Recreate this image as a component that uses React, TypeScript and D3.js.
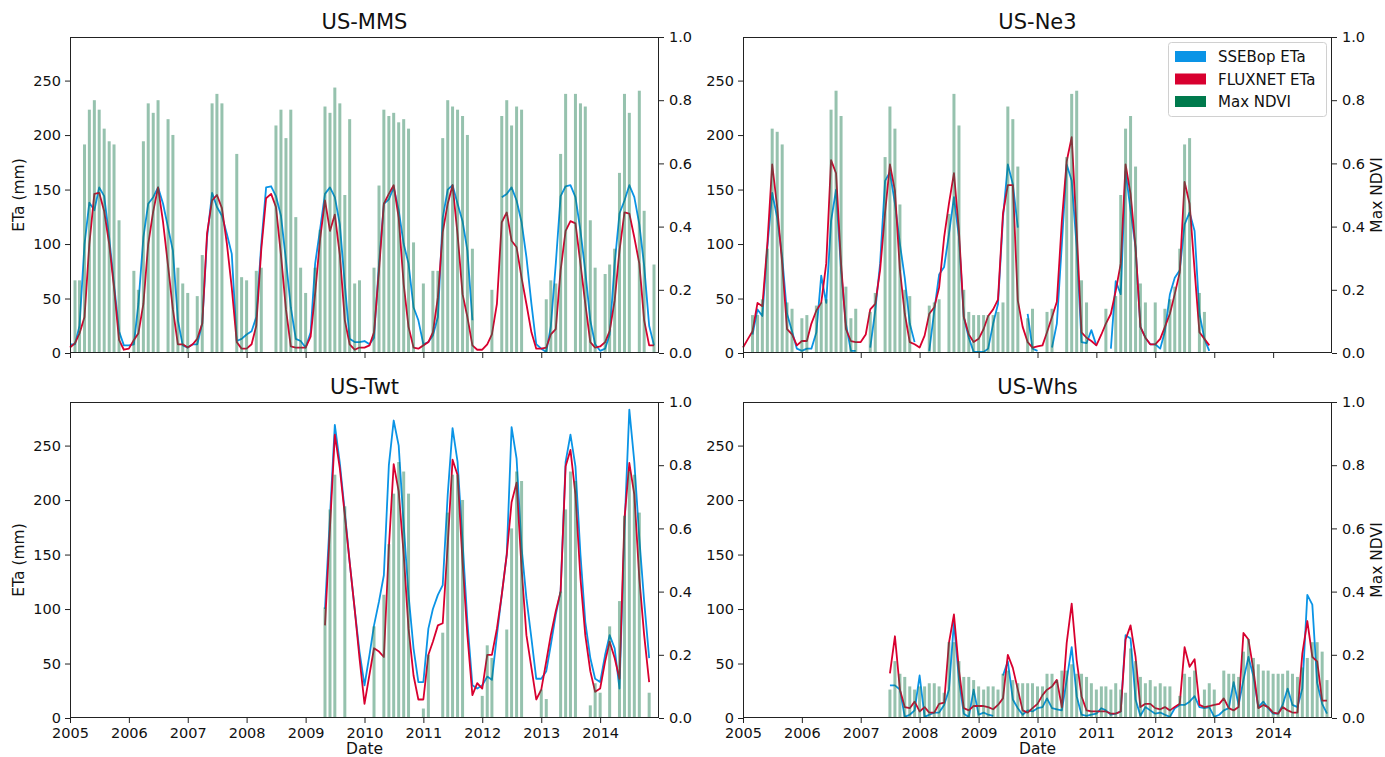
import React, { useEffect, useRef } from 'react';
import * as d3 from 'd3';

const W = 1385;
const H = 757;
const N = null;

// monthly values, index 0 = Jan 2005 (or the given start month)
const mmsStart = 0;
const mmsSsebop = [
  8, 8, 25, 100, 138, 131, 152, 144, 106, 63, 20, 7,
  7, 8, 45, 106, 137, 143, 152, 137, 115, 94, 30, 7,
  5, 8, 8, 27, 106, 147, 134, 126, 109, 91, 11, 13,
  17, 20, 33, 100, 152, 153, 144, 126, 85, 42, 13, 11,
  5, 19, 82, 114, 146, 152, 143, 118, 63, 13, 10, 10,
  11, 8, 14, 82, 137, 141, 152, 131, 100, 82, 42, 30,
  8, 10, 16, 33, 124, 150, 154, 137, 121, 94, 30, N,
  N, N, N, N, 143, 146, 152, 140, 120, 88, 45, 8,
  4, 1, 24, 82, 144, 153, 154, 143, 112, 75, 30, 8,
  2, 4, 17, 82, 128, 140, 154, 143, 118, 80, 25, 7,
];
const mmsFluxnet = [
  5, 9, 18, 33, 100, 146, 147, 130, 100, 60, 12, 3,
  4, 12, 18, 45, 100, 130, 152, 120, 80, 40, 8, 8,
  5, 8, 13, 27, 110, 140, 145, 133, 100, 60, 10, 4,
  4, 8, 25, 95, 142, 146, 134, 90, 40, 6, 5, 5,
  5, 15, 55, 105, 140, 112, 127, 90, 30, 8, 3, 5,
  5, 7, 19, 76, 137, 146, 154, 124, 63, 24, 5, 4,
  7, 10, 19, 51, 111, 137, 154, 109, 54, 33, 7, 3,
  3, 8, 17, 45, 120, 129, 103, 97, 69, 45, 19, 4,
  4, 5, 17, 22, 76, 112, 121, 119, 82, 45, 10, 5,
  6, 10, 20, 48, 94, 129, 128, 106, 82, 30, 7, 7,
];
const mmsNdvi = [
  N, 0.23, 0.23, 0.66, 0.77, 0.8, 0.77, 0.71, 0.67, 0.66, 0.42, N,
  N, 0.26, 0.2, 0.67, 0.79, 0.76, 0.8, N, 0.74, 0.69, 0.27, 0.22,
  0.19, N, 0.18, 0.31, N, 0.79, 0.82, 0.79, N, N, 0.63, 0.24,
  0.23, N, 0.26, 0.27, N, N, 0.72, 0.77, 0.68, 0.77, 0.43, 0.27,
  0.19, N, 0.27, 0.39, 0.78, 0.76, 0.84, 0.79, 0.5, 0.74, 0.22, 0.23,
  N, N, 0.27, 0.53, 0.77, 0.75, 0.76, 0.73, 0.74, 0.71, 0.35, N,
  0.22, N, 0.26, 0.26, 0.68, 0.8, 0.78, 0.77, 0.75, 0.69, 0.33, N,
  N, N, 0.2, N, 0.75, 0.8, 0.72, 0.78, 0.77, N, N, N,
  N, 0.17, 0.23, 0.22, 0.63, 0.82, N, 0.82, 0.79, 0.78, 0.42, 0.27,
  N, 0.25, 0.28, 0.33, 0.57, 0.82, 0.76, N, 0.83, 0.45, N, 0.28,
];

const ne3Start = 0;
const ne3Ssebop = [
  N, N, 17, 40, 34, 97, 147, 124, 88, 36, 20, 4,
  2, 4, 4, 19, 71, 46, 121, 150, 76, 27, 2, 2,
  N, N, 5, 39, 82, 158, 166, 137, 100, 69, 27, 10,
  N, N, 2, 39, 72, 79, 109, 143, 106, 33, 14, 1,
  1, 1, 4, 27, 45, 124, 173, 155, 115, N, 36, 4,
  2, N, N, 5, 27, 100, 173, 158, 97, 10, 9, 21,
  7, N, N, 4, 66, 54, 167, 131, 97, 24, 14, 8,
  8, 4, 20, 54, 69, 76, 118, 129, 112, 36, 13, 2,
];
const ne3Fluxnet = [
  5, 13, 20, 46, 43, 100, 173, 134, 82, 22, 17, 7,
  11, 11, 27, 39, 46, 82, 177, 165, 82, 22, 11, 10,
  10, 17, 40, 45, 76, 129, 173, 149, 76, 36, 10, 8,
  5, 16, 36, 42, 60, 106, 137, 165, 112, 33, 17, 10,
  13, 22, 34, 40, 49, 128, 154, 154, 48, 24, 10, 5,
  6, 7, 19, 33, 47, 121, 176, 198, 112, 19, 14, 11,
  7, 17, 27, 36, 57, 82, 173, 146, 97, 24, 14, 8,
  8, 13, 24, 36, 54, 74, 157, 137, 76, 19, 13, 7,
];
const ne3Ndvi = [
  N, N, 0.12, 0.12, 0.17, 0.33, 0.71, 0.7, 0.66, 0.16, 0.14, N,
  0.11, 0.12, N, 0.15, 0.16, 0.17, 0.77, 0.83, 0.75, 0.21, 0.11, 0.14,
  N, N, 0.13, 0.19, N, 0.62, 0.78, 0.71, 0.47, 0.2, 0.18, N,
  N, N, 0.15, 0.16, 0.17, N, 0.44, 0.82, 0.72, 0.2, 0.13, 0.12,
  0.12, 0.12, 0.12, 0.12, 0.13, 0.16, 0.78, 0.74, 0.59, N, 0.11, 0.14,
  N, N, 0.13, 0.14, N, N, 0.62, 0.82, 0.83, 0.23, 0.16, N,
  N, N, 0.14, N, 0.18, 0.5, 0.71, 0.75, 0.59, 0.22, 0.16, N,
  0.16, N, 0.14, 0.17, 0.21, 0.33, 0.66, 0.68, N, 0.19, 0.13, N,
];

// US-Twt starts May 2009
const twtStart = 52;
const twtSsebop = [
  100, 185, 269, 234, 189, 143, 100, 61,
  30, 58, 85, 107, 131, 232, 273, 250, 177, 113, 64, 33,
  33, 82, 100, 113, 122, 205, 266, 235, 162, 88, 30, 27,
  30, 38, 35, 76, 113, 150, 267, 238, 156, 110, 73, 36,
  36, 43, 67, 95, 116, 235, 260, 231, 150, 88, 55, 36,
  33, 58, 76, 64, 27, 174, 283, 235, 165, 107, 55,
];
const twtFluxnet = [
  85, 175, 260, 229, 186, 143, 100, 55,
  13, 40, 64, 61, 56, 156, 233, 208, 150, 82, 39, 17,
  17, 58, 70, 85, 87, 159, 237, 223, 143, 76, 21, 32,
  27, 58, 58, 82, 113, 150, 198, 216, 137, 76, 46, 17,
  26, 52, 76, 98, 116, 231, 246, 205, 128, 76, 43, 24,
  27, 52, 70, 55, 36, 183, 234, 205, 128, 76, 33,
];
const twtNdvi = [
  0.35, 0.66, 0.77, N, 0.67, N, N, N,
  N, N, 0.29, N, 0.39, 0.55, 0.71, 0.81, 0.78, 0.71, N, N,
  0.03, 0.2, N, N, 0.27, 0.65, 0.77, 0.77, 0.69, N, N, N,
  0.07, 0.23, 0.19, N, N, 0.28, 0.6, 0.78, 0.75, N, N, N,
  0.09, 0.06, N, N, 0.4, 0.66, 0.78, 0.75, N, N, 0.04, 0.11,
  0.08, N, 0.29, N, 0.37, 0.64, 0.78, 0.77, 0.65, N, 0.08,
];

// US-Whs starts Jul 2007
const whsStart = 30;
const whsSsebop = [
  30, 30, 26, 1, 3, 7,
  39, 1, 3, 5, 5, 12, 26, 88, 35, 4, 1, 26,
  3, 5, 3, 2, N, 39, 52, 17, 9, 3, 7, 6,
  9, 10, 18, 9, 8, 7, 35, 65, 20, 3, 2, 3,
  4, 9, 7, 3, 4, 6, 76, 73, 17, 2, 10, 7,
  4, 5, 3, 1, 9, 12, 12, 15, 20, 10, 9, 10,
  1, 3, 7, 9, 33, 12, 35, 56, 38, 10, 15, 9,
  4, 4, 12, 27, 12, 10, 27, 113, 104, 32, 13, 4,
];
const whsFluxnet = [
  41, 75, 26, 10, 9, 15,
  6, 10, 5, 5, 13, 14, 69, 95, 44, 9, 7, 11,
  11, 11, 10, 8, 12, 18, 58, 46, 26, 7, 5, 9,
  13, 21, 26, 29, 35, 10, 69, 105, 53, 20, 7, 6,
  6, 6, 6, 4, 4, 6, 72, 85, 56, 10, 13, 13,
  9, 8, 10, 7, 10, 13, 65, 47, 54, 12, 10, 11,
  12, 13, 18, 9, 7, 10, 78, 72, 44, 9, 12, 10,
  5, 4, 10, 7, 5, 5, 59, 89, 56, 52, 16, 16,
];
const whsNdvi = [
  0.09, 0.18, 0.14, 0.13, 0.1, 0.09,
  0.1, 0.1, 0.11, 0.11, 0.1, 0.08, 0.24, 0.24, 0.18, 0.13, 0.13, 0.12,
  0.1, 0.09, 0.1, 0.1, 0.09, 0.14, 0.15, 0.12, 0.11, 0.11, 0.11, 0.11,
  0.1, 0.1, 0.14, 0.14, 0.12, 0.15, 0.15, 0.17, 0.14, 0.14, 0.13, 0.11,
  0.09, 0.1, 0.1, 0.09, 0.11, 0.09, 0.08, 0.22, 0.18, 0.13, 0.11, 0.12,
  0.1, 0.11, 0.1, 0.1, N, 0.07, 0.14, 0.13, 0.15, N, 0.09, 0.11,
  0.09, N, 0.15, 0.14, 0.14, 0.13, 0.21, 0.25, 0.19, 0.17, 0.15, 0.15,
  0.14, 0.14, 0.14, 0.15, 0.14, 0.13, 0.16, 0.19, 0.24, 0.24, 0.21, 0.12,
];

const etaTicks = [0, 50, 100, 150, 200, 250];
const ndviTicks = [0, 0.2, 0.4, 0.6, 0.8, 1.0];
const yearTicks = [2005, 2006, 2007, 2008, 2009, 2010, 2011, 2012, 2013, 2014];
const legendLabels = ['SSEBop ETa', 'FLUXNET ETa', 'Max NDVI'];

const BLUE = '#0a94e6';
const RED = '#d8002f';
const GREEN = '#007a4d';
const FONT = 'DejaVu Sans, sans-serif';

type Pt = { date: Date; v: number | null };

const toSeries = (start: number, vals: (number | null)[]): Pt[] =>
  vals.map((v, i) => ({ date: new Date(2005, start + i, 1), v }));

const panels = [
  { name: 'US-MMS', start: mmsStart, ssebop: mmsSsebop, fluxnet: mmsFluxnet, ndvi: mmsNdvi,
    left: 70, top: 37, xLabels: false, etaLabel: true, ndviLabel: false },
  { name: 'US-Ne3', start: ne3Start, ssebop: ne3Ssebop, fluxnet: ne3Fluxnet, ndvi: ne3Ndvi,
    left: 743, top: 37, xLabels: false, etaLabel: false, ndviLabel: true },
  { name: 'US-Twt', start: twtStart, ssebop: twtSsebop, fluxnet: twtFluxnet, ndvi: twtNdvi,
    left: 70, top: 402, xLabels: true, etaLabel: true, ndviLabel: false },
  { name: 'US-Whs', start: whsStart, ssebop: whsSsebop, fluxnet: whsFluxnet, ndvi: whsNdvi,
    left: 743, top: 402, xLabels: true, etaLabel: false, ndviLabel: true },
];

const PW = 589;
const PH = 316;

function drawPanel(svg: any, p: typeof panels[0]) {
  const right = p.left + PW;
  const bottom = p.top + PH;
  const x = d3.scaleTime().domain([new Date(2005, 0, 1), new Date(2015, 0, 1)]).range([p.left, right]);
  const yL = d3.scaleLinear().domain([0, 290]).range([bottom, p.top]);
  const yR = d3.scaleLinear().domain([0, 1]).range([bottom, p.top]);

  const g = svg.append('g');

  const line = d3.line<Pt>()
    .defined(d => d.v != null)
    .x(d => x(d.date))
    .y(d => yL(d.v as number));

  g.append('path').datum(toSeries(p.start, p.ssebop))
    .attr('d', line).attr('fill', 'none').attr('stroke', BLUE)
    .attr('stroke-width', 1.8).attr('stroke-linejoin', 'round');
  g.append('path').datum(toSeries(p.start, p.fluxnet))
    .attr('d', line).attr('fill', 'none').attr('stroke', RED)
    .attr('stroke-width', 1.8).attr('stroke-linejoin', 'round');

  // NDVI bars on the twin axis, drawn over the lines
  const bw = 3;
  g.append('g').selectAll('rect')
    .data(toSeries(p.start, p.ndvi).filter(d => d.v != null))
    .join('rect')
    .attr('x', (d: Pt) => x(d.date) - bw / 2)
    .attr('width', bw)
    .attr('y', (d: Pt) => yR(d.v as number))
    .attr('height', (d: Pt) => bottom - yR(d.v as number))
    .attr('fill', '#1b7a4f')
    .attr('fill-opacity', 0.46);

  // frame
  g.append('rect')
    .attr('x', p.left + 0.5).attr('y', p.top + 0.5)
    .attr('width', PW - 1).attr('height', PH - 1)
    .attr('fill', 'none').attr('stroke', '#222').attr('stroke-width', 1);

  const styleAxis = (a: any) => {
    a.select('.domain').remove();
    a.selectAll('line').attr('stroke', '#222');
    a.selectAll('text').attr('fill', '#111').attr('font-size', 14.5).attr('font-family', FONT);
  };

  g.append('g').attr('transform', `translate(${p.left},0)`)
    .call(d3.axisLeft(yL).tickValues(etaTicks).tickSize(5).tickPadding(4))
    .call(styleAxis);

  g.append('g').attr('transform', `translate(${right},0)`)
    .call(d3.axisRight(yR).tickValues(ndviTicks).tickSize(5).tickPadding(5).tickFormat(d3.format('.1f')))
    .call(styleAxis);

  g.append('g').attr('transform', `translate(0,${bottom})`)
    .call(d3.axisBottom(x)
      .tickValues(yearTicks.map(yr => new Date(yr, 0, 1)))
      .tickSize(5).tickPadding(5)
      .tickFormat((d: any) => (p.xLabels ? d3.timeFormat('%Y')(d) : '')))
    .call(styleAxis);

  g.append('text')
    .attr('x', (p.left + right) / 2).attr('y', p.top - 8)
    .attr('text-anchor', 'middle').attr('font-family', FONT).attr('font-size', 21)
    .attr('fill', '#111').text(p.name);

  if (p.etaLabel) {
    g.append('text')
      .attr('transform', `translate(${p.left - 46},${(p.top + bottom) / 2}) rotate(-90)`)
      .attr('text-anchor', 'middle').attr('font-family', FONT).attr('font-size', 15.5)
      .attr('fill', '#111').text('ETa (mm)');
  }
  if (p.ndviLabel) {
    g.append('text')
      .attr('transform', `translate(${right + 50},${(p.top + bottom) / 2}) rotate(-90)`)
      .attr('text-anchor', 'middle').attr('font-family', FONT).attr('font-size', 15.5)
      .attr('fill', '#111').text('Max NDVI');
  }
  if (p.xLabels) {
    g.append('text')
      .attr('x', (p.left + right) / 2).attr('y', bottom + 36)
      .attr('text-anchor', 'middle').attr('font-family', FONT).attr('font-size', 15.5)
      .attr('fill', '#111').text('Date');
  }
}

function drawLegend(svg: any) {
  const lx = 1168;
  const ly = 42;
  const g = svg.append('g');
  g.append('rect')
    .attr('x', lx + 0.5).attr('y', ly + 0.5).attr('width', 158).attr('height', 74)
    .attr('rx', 3).attr('fill', '#fff').attr('fill-opacity', 0.85)
    .attr('stroke', '#d0d0d0').attr('stroke-width', 1);
  const colors = [BLUE, RED, GREEN];
  legendLabels.forEach((lab, i) => {
    const cy = ly + 15 + i * 22.5;
    g.append('rect').attr('x', lx + 7).attr('y', cy - 6).attr('width', 31).attr('height', 11)
      .attr('fill', colors[i]);
    g.append('text').attr('x', lx + 50).attr('y', cy).attr('dy', '0.35em')
      .attr('font-family', FONT).attr('font-size', 15).attr('fill', '#111').text(lab);
  });
}

export default function App() {
  const ref = useRef<SVGSVGElement>(null);
  useEffect(() => {
    const svg = d3.select(ref.current);
    svg.selectAll('*').remove();
    panels.forEach(p => drawPanel(svg, p));
    drawLegend(svg);
  }, []);
  return (
    <svg
      ref={ref}
      width={W}
      height={H}
      style={{ position: 'absolute', left: 0, top: 0, background: '#fff' }}
    />
  );
}
